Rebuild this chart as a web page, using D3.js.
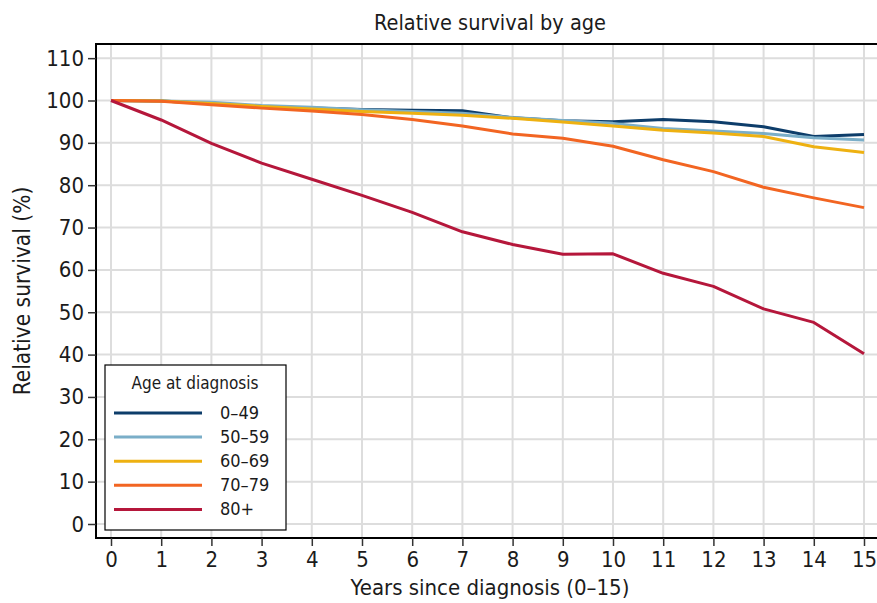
<!DOCTYPE html>
<html>
<head>
<meta charset="utf-8">
<script src="https://cdn.jsdelivr.net/npm/d3@7"></script>
<style>
  body { margin: 0; background: #fff; }
  svg { display: block; }
  text { font-family: "Liberation Sans Narrow", "DejaVu Sans Condensed", "Roboto Condensed", sans-serif; fill: #1b1b1b; }
</style>
</head>
<body>
<div class="chart"></div>
<script>
// values
var years = [0, 1, 2, 3, 4, 5, 6, 7, 8, 9, 10, 11, 12, 13, 14, 15];
var groups = ["0\u201349", "50\u201359", "60\u201369", "70\u201379", "80+"];
var age0_49  = [100, 99.9, 99.3, 98.6, 98.2, 97.9, 97.7, 97.6, 95.9, 95.2, 95.0, 95.5, 95.0, 93.8, 91.5, 92.0];
var age50_59 = [100, 99.9, 99.6, 98.8, 98.4, 97.8, 97.4, 97.0, 96.0, 95.3, 94.6, 93.4, 92.8, 92.2, 91.2, 90.7];
var age60_69 = [100, 99.9, 99.3, 98.6, 98.0, 97.4, 97.0, 96.5, 95.8, 94.9, 94.0, 93.0, 92.3, 91.5, 89.1, 87.7];
var age70_79 = [100, 99.8, 99.0, 98.2, 97.5, 96.7, 95.5, 94.0, 92.1, 91.1, 89.2, 86.0, 83.2, 79.5, 77.0, 74.7];
var age80    = [100, 95.4, 89.9, 85.2, 81.4, 77.6, 73.6, 69.0, 66.0, 63.7, 63.8, 59.2, 56.1, 50.8, 47.6, 40.2];
var yTicks = [0, 10, 20, 30, 40, 50, 60, 70, 80, 90, 100, 110];
var colors = ["#0d3d6a", "#7aaec8", "#eeb111", "#f26522", "#b5173b"];

var series = [age0_49, age50_59, age60_69, age70_79, age80];

var width = 877, height = 603;
var frame = {left: 96, top: 44, right: 880, bottom: 538};

var svg = d3.select(".chart").append("svg")
  .attr("width", width)
  .attr("height", height);

var x = d3.scaleLinear().domain([0, 15]).range([111, 864]);
var y = d3.scaleLinear().domain([0, 100]).range([524, 100.5]);

// grid
svg.append("g")
  .selectAll("line")
  .data(years)
  .enter().append("line")
  .attr("x1", d => x(d)).attr("x2", d => x(d))
  .attr("y1", frame.top).attr("y2", frame.bottom)
  .attr("stroke", "#dddddd").attr("stroke-width", 2);

svg.append("g")
  .selectAll("line")
  .data(yTicks)
  .enter().append("line")
  .attr("x1", frame.left).attr("x2", frame.right)
  .attr("y1", d => y(d)).attr("y2", d => y(d))
  .attr("stroke", "#dddddd").attr("stroke-width", 2);

// frame: top, left, bottom
svg.append("path")
  .attr("d", `M${frame.right},${frame.top}H${frame.left}V${frame.bottom}H${frame.right}`)
  .attr("fill", "none")
  .attr("stroke", "#000")
  .attr("stroke-width", 2);

// axes
var yAxis = svg.append("g")
  .attr("transform", `translate(${frame.left},0)`)
  .call(d3.axisLeft(y).tickValues(yTicks).tickSize(8).tickPadding(4));
var xAxis = svg.append("g")
  .attr("transform", `translate(0,${frame.bottom})`)
  .call(d3.axisBottom(x).tickValues(years).tickSize(8).tickPadding(5));

[yAxis, xAxis].forEach(a => {
  a.select(".domain").remove();
  a.selectAll(".tick line").attr("stroke", "#333").attr("stroke-width", 1.5);
  a.selectAll(".tick text").style("font-size", "22px").attr("fill", "#1b1b1b");
});

// lines
var line = d3.line()
  .x((d, i) => x(years[i]))
  .y(d => y(d));

svg.append("g")
  .selectAll("path")
  .data(series)
  .enter().append("path")
  .attr("d", line)
  .attr("fill", "none")
  .attr("stroke", (d, i) => colors[i])
  .attr("stroke-width", 3)
  .attr("stroke-linejoin", "round");

// titles
svg.append("text")
  .attr("x", 490).attr("y", 30)
  .attr("text-anchor", "middle")
  .style("font-size", "21.5px")
  .text("Relative survival by age");

svg.append("text")
  .attr("x", 490).attr("y", 595)
  .attr("text-anchor", "middle")
  .style("font-size", "22px")
  .text("Years since diagnosis (0\u201315)");

svg.append("text")
  .attr("transform", "translate(30,291) rotate(-90)")
  .attr("text-anchor", "middle")
  .style("font-size", "22.5px")
  .text("Relative survival (%)");

// legend
var legend = svg.append("g");
legend.append("rect")
  .attr("x", 105).attr("y", 365)
  .attr("width", 181).attr("height", 165)
  .attr("fill", "#fff")
  .attr("stroke", "#000")
  .attr("stroke-width", 1.2);

legend.append("text")
  .attr("x", 195).attr("y", 389)
  .attr("text-anchor", "middle")
  .style("font-size", "17px")
  .text("Age at diagnosis");

var item = legend.selectAll(".item")
  .data(groups)
  .enter().append("g")
  .attr("class", "item")
  .attr("transform", (d, i) => `translate(0,${413 + i * 24.1})`);

item.append("line")
  .attr("x1", 114).attr("x2", 202)
  .attr("stroke", (d, i) => colors[i])
  .attr("stroke-width", 3);

item.append("text")
  .attr("x", 220).attr("y", 6)
  .style("font-size", "18px")
  .text(d => d);
</script>
</body>
</html>
